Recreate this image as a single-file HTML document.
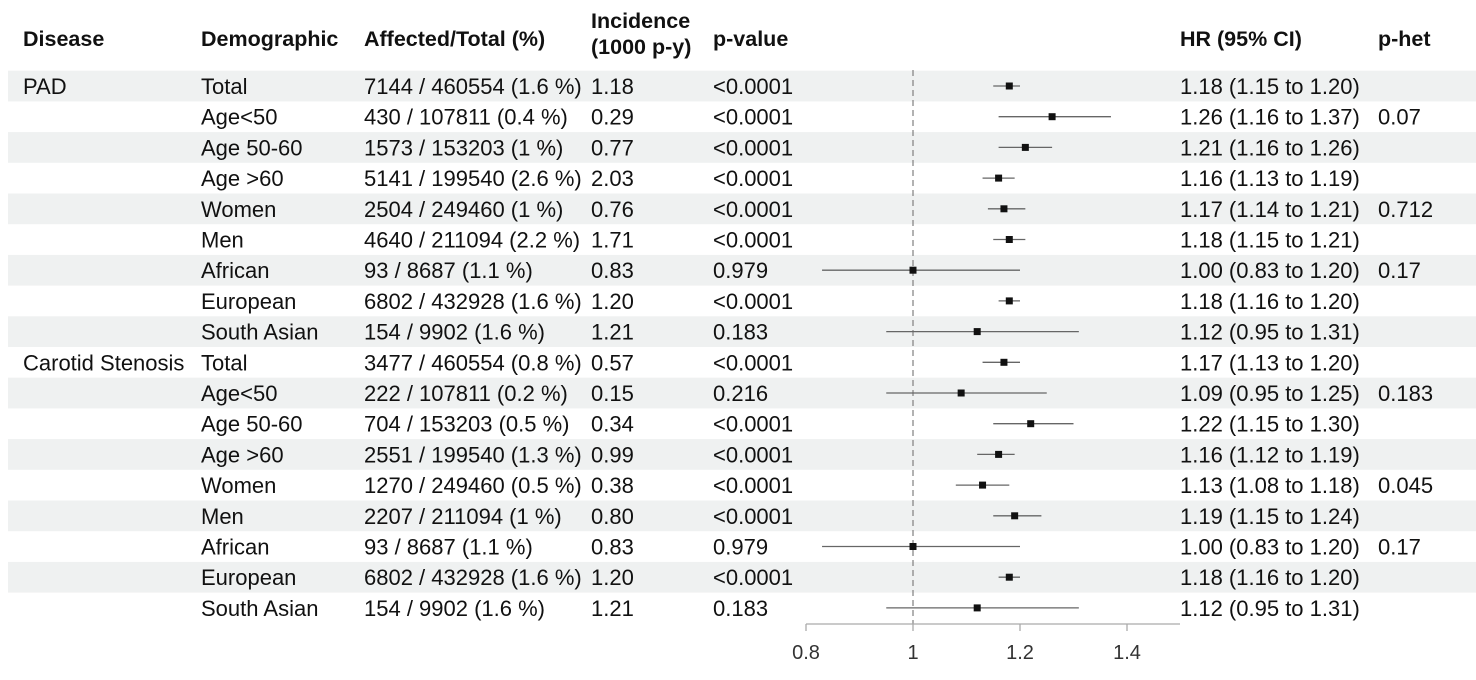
<!DOCTYPE html>
<html><head><meta charset="utf-8"><style>
body{margin:0;background:#fff;}
svg{display:block;font-family:"Liberation Sans",Arial,sans-serif;}
</style></head><body>
<svg width="1476" height="680" xmlns="http://www.w3.org/2000/svg">
<g id="bands" fill="#eff1f1"></g>
<g font-size="21.5" font-weight="bold" fill="#111">
<text x="23" y="46">Disease</text>
<text x="201" y="46">Demographic</text>
<text x="364" y="46">Affected/Total (%)</text>
<text x="591" y="28">Incidence</text>
<text x="591" y="54">(1000 p-y)</text>
<text x="713" y="46">p-value</text>
<text x="1180" y="46">HR (95% CI)</text>
<text x="1378" y="46">p-het</text>
</g>
<g id="rows" font-size="22" fill="#111"></g>
<line x1="913" y1="70" x2="913" y2="624" stroke="#888" stroke-width="1.3" stroke-dasharray="6,4"/>
<g id="plot"></g>
<g stroke="#aaa" stroke-width="1.3">
<line x1="806" y1="624" x2="1180" y2="624"/>
<line x1="806" y1="624" x2="806" y2="631"/>
<line x1="913" y1="624" x2="913" y2="631"/>
<line x1="1020" y1="624" x2="1020" y2="631"/>
<line x1="1127" y1="624" x2="1127" y2="631"/>
</g>
<g font-size="20" fill="#333" text-anchor="middle">
<text x="806" y="659">0.8</text><text x="913" y="659">1</text><text x="1020" y="659">1.2</text><text x="1127" y="659">1.4</text>
</g>
</svg>
<script>
var d=[
["PAD","Total","7144 / 460554 (1.6 %)","1.18","<0.0001",1.18,1.15,1.20,"1.18 (1.15 to 1.20)",""],
["","Age<50","430 / 107811 (0.4 %)","0.29","<0.0001",1.26,1.16,1.37,"1.26 (1.16 to 1.37)","0.07"],
["","Age 50-60","1573 / 153203 (1 %)","0.77","<0.0001",1.21,1.16,1.26,"1.21 (1.16 to 1.26)",""],
["","Age >60","5141 / 199540 (2.6 %)","2.03","<0.0001",1.16,1.13,1.19,"1.16 (1.13 to 1.19)",""],
["","Women","2504 / 249460 (1 %)","0.76","<0.0001",1.17,1.14,1.21,"1.17 (1.14 to 1.21)","0.712"],
["","Men","4640 / 211094 (2.2 %)","1.71","<0.0001",1.18,1.15,1.21,"1.18 (1.15 to 1.21)",""],
["","African","93 / 8687 (1.1 %)","0.83","0.979",1.00,0.83,1.20,"1.00 (0.83 to 1.20)","0.17"],
["","European","6802 / 432928 (1.6 %)","1.20","<0.0001",1.18,1.16,1.20,"1.18 (1.16 to 1.20)",""],
["","South Asian","154 / 9902 (1.6 %)","1.21","0.183",1.12,0.95,1.31,"1.12 (0.95 to 1.31)",""],
["Carotid Stenosis","Total","3477 / 460554 (0.8 %)","0.57","<0.0001",1.17,1.13,1.20,"1.17 (1.13 to 1.20)",""],
["","Age<50","222 / 107811 (0.2 %)","0.15","0.216",1.09,0.95,1.25,"1.09 (0.95 to 1.25)","0.183"],
["","Age 50-60","704 / 153203 (0.5 %)","0.34","<0.0001",1.22,1.15,1.30,"1.22 (1.15 to 1.30)",""],
["","Age >60","2551 / 199540 (1.3 %)","0.99","<0.0001",1.16,1.12,1.19,"1.16 (1.12 to 1.19)",""],
["","Women","1270 / 249460 (0.5 %)","0.38","<0.0001",1.13,1.08,1.18,"1.13 (1.08 to 1.18)","0.045"],
["","Men","2207 / 211094 (1 %)","0.80","<0.0001",1.19,1.15,1.24,"1.19 (1.15 to 1.24)",""],
["","African","93 / 8687 (1.1 %)","0.83","0.979",1.00,0.83,1.20,"1.00 (0.83 to 1.20)","0.17"],
["","European","6802 / 432928 (1.6 %)","1.20","<0.0001",1.18,1.16,1.20,"1.18 (1.16 to 1.20)",""],
["","South Asian","154 / 9902 (1.6 %)","1.21","0.183",1.12,0.95,1.31,"1.12 (0.95 to 1.31)",""]];
var ns="http://www.w3.org/2000/svg";
function el(p,t,a,txt){var e=document.createElementNS(ns,t);for(var k in a)e.setAttribute(k,a[k]);if(txt!=null)e.textContent=txt;document.getElementById(p).appendChild(e);}
var xs=[23,201,364,591,713];
function X(v){return 913+(v-1)*535;}
d.forEach(function(r,i){var y=86+i*30.7;
 if(i%2==0)el("bands","rect",{x:8,y:y-15.3,width:1468,height:30.7});
 for(var j=0;j<5;j++)if(r[j])el("rows","text",{x:xs[j],y:y+8},r[j]);
 el("rows","text",{x:1180,y:y+8},r[8]);
 if(r[9])el("rows","text",{x:1378,y:y+8},r[9]);
 el("plot","line",{x1:X(r[6]),x2:X(r[7]),y1:y,y2:y,stroke:"#666","stroke-width":1.3});
 el("plot","rect",{x:X(r[5])-3.5,y:y-3.5,width:7,height:7,fill:"#111"});
});
</script>
</body></html>
